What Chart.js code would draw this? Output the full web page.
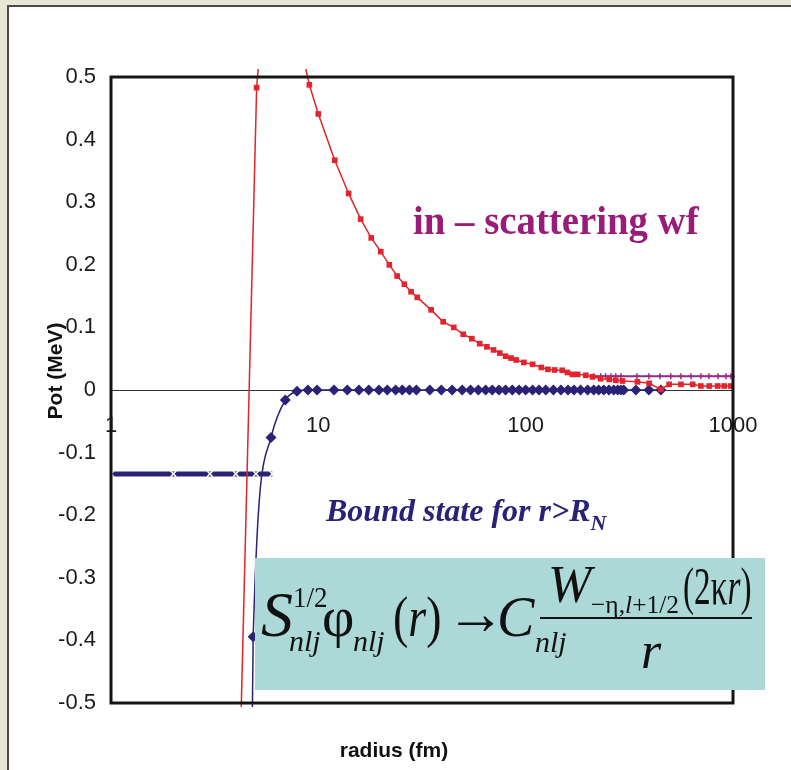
<!DOCTYPE html>
<html>
<head>
<meta charset="utf-8">
<script src="https://cdn.jsdelivr.net/npm/chart.js@4.4.1/dist/chart.umd.min.js"></script>
<style>
  html, body { margin: 0; padding: 0; background: #e8e6d5; }
  #wrap { width: 791px; height: 770px; }
</style>
</head>
<body>
<div id="wrap"><canvas id="potChart"></canvas></div>
<script>
// scattering wave function (red squares)
const redR = [4.18, 5.04, 5.4, 7.6, 9.05, 10, 12, 14, 16, 18, 20, 22, 24, 26, 28, 30, 35, 40, 45, 50,
  55, 60, 65, 70, 75, 80, 85, 90, 98, 108, 119, 128, 138, 150, 159, 168, 178, 195, 210, 230,
  253, 272, 293, 346, 394, 449, 492, 561, 639, 700, 768, 843, 907, 977];
const redPot = [-0.6, 0.483, 0.6, 0.6, 0.4875, 0.441, 0.367, 0.314, 0.273, 0.243, 0.221, 0.2, 0.182, 0.169, 0.157, 0.148, 0.128, 0.109, 0.1, 0.089,
  0.082, 0.074, 0.069, 0.064, 0.059, 0.054, 0.051, 0.048, 0.044, 0.041, 0.036, 0.033, 0.032, 0.0315, 0.028, 0.025, 0.025, 0.0235, 0.021, 0.018,
  0.017, 0.0155, 0.0144, 0.013, 0.0107, 0.001, 0.009, 0.009, 0.009, 0.0064, 0.0064, 0.0064, 0.0064, 0.0064];

// bound state wave function (navy diamonds)
const boundWfR = [4.78, 4.85, 5.91, 6.93, 7.89, 8.91, 9.86, 11.9, 13.8, 15.7, 17.5, 19.6, 21.5, 23.6, 25.4, 27.5, 29.7,
  34.5, 39.2, 44.2, 49.4, 54.2, 59.1, 64.1, 69, 74.3, 80, 86.2, 92.9, 100, 108, 116, 125, 136, 148, 160, 171,
  184, 199, 213, 225, 238, 252, 266, 278, 288, 297, 340, 393, 449];
const boundWfPot = [-0.6, -0.394, -0.076, -0.016, -0.002, 0, 0, 0, 0, 0, 0, 0, 0, 0, 0, 0, 0,
  0, 0, 0, 0, 0, 0, 0, 0, 0, 0, 0, 0, 0, 0, 0, 0, 0, 0, 0, 0,
  0, 0, 0, 0, 0, 0, 0, 0, 0, 0, 0, 0, 0];

// bound state energy (thick dashed line)
const levelR = [1, 2, 3, 4, 5, 6];
const levelPot = [-0.134, -0.134, -0.134, -0.134, -0.134, -0.134];

// asymptotic form (purple)
const asymR = [213, 230, 243, 258, 272, 288, 344, 393, 444, 501, 561, 627, 700, 765, 847, 925, 977, 1000];
const asymPot = [0.022, 0.022, 0.022, 0.022, 0.022, 0.022, 0.022, 0.022, 0.022, 0.022, 0.022, 0.022, 0.022, 0.022, 0.022, 0.022, 0.022, 0.022];

const xTicks = [1, 10, 100, 1000];
const yMin = -0.5, yMax = 0.5, yStep = 0.1;

const NAVY = '#2a2276';
const RED = '#e2242c';
const PURPLE = '#992a86';
const serif = '"Liberation Serif", "Times New Roman", serif';
const tickFont = { family: '"Liberation Sans", Arial, sans-serif', size: 22 };

function pts(xs, ys) {
  return xs.map((x, i) => ({ x: x, y: ys[i] }));
}

const panel = {
  id: 'panel',
  beforeDraw(chart) {
    const ctx = chart.ctx;
    ctx.save();
    ctx.fillStyle = '#e8e6d5';
    ctx.fillRect(0, 0, chart.width, chart.height);
    ctx.fillStyle = '#ffffff';
    ctx.fillRect(8, 6, chart.width, chart.height);
    ctx.strokeStyle = '#4a4a4a';
    ctx.lineWidth = 2;
    ctx.beginPath();
    ctx.moveTo(8, chart.height);
    ctx.lineTo(8, 6);
    ctx.lineTo(chart.width, 6);
    ctx.stroke();
    ctx.restore();
  }
};

// draw a row of text pieces, optionally squeezed horizontally by k
function runs(ctx, x, y, parts, k) {
  ctx.save();
  ctx.translate(x, y);
  ctx.scale(k || 1, 1);
  let cx = 0;
  parts.forEach(p => {
    ctx.font = p[1];
    ctx.fillText(p[0], cx, p[2] || 0);
    cx += ctx.measureText(p[0]).width;
  });
  ctx.restore();
  return x + cx * (k || 1);
}

const annotations = {
  id: 'annotations',
  afterDatasetsDraw(chart) {
    const ctx = chart.ctx;
    const a = chart.chartArea;
    ctx.save();

    // plot frame
    ctx.strokeStyle = '#151515';
    ctx.lineWidth = 3;
    ctx.strokeRect(a.left, a.top, a.right - a.left, a.bottom - a.top);

    // axis titles
    ctx.fillStyle = '#111';
    ctx.font = 'bold 21px "Liberation Sans", Arial, sans-serif';
    ctx.textAlign = 'center';
    ctx.textBaseline = 'middle';
    ctx.fillText('radius (fm)', 394, 751);
    ctx.save();
    ctx.translate(56, 371);
    ctx.rotate(-Math.PI / 2);
    ctx.fillText('Pot (MeV)', 0, 0);
    ctx.restore();

    // labels
    ctx.textAlign = 'left';
    ctx.textBaseline = 'alphabetic';
    ctx.fillStyle = '#9a1c79';
    runs(ctx, 413, 234, [['in – scattering wf', 'bold 40px ' + serif]], 0.97);

    ctx.fillStyle = NAVY;
    const bx = runs(ctx, 326, 521, [['Bound state for r>R', 'italic bold 32px ' + serif]]);
    runs(ctx, bx, 530, [['N', 'italic bold 22px ' + serif]]);

    // formula box
    ctx.fillStyle = '#acd8d8';
    ctx.fillRect(255, 558, 510, 132);
    ctx.fillStyle = '#111';
    const bigI = 'italic 56px ' + serif, bigU = '56px ' + serif;
    const smI = 'italic 30px ' + serif, smU = '30px ' + serif;
    runs(ctx, 261, 636, [['S', 'italic 64px ' + serif]]);
    runs(ctx, 293, 607, [['1/2', smU]], 0.9);
    runs(ctx, 289, 651, [['nlj', smI]]);
    runs(ctx, 322, 636, [['φ', bigU]]);
    runs(ctx, 353, 651, [['nlj', smI]]);
    runs(ctx, 393, 636, [['(', bigU], ['r', bigI], [')', bigU]], 0.82);
    runs(ctx, 446, 634, [['→', '62px ' + serif]], 0.95);
    runs(ctx, 497, 636, [['C', bigI]]);
    runs(ctx, 535, 652, [['nlj', smI]]);
    runs(ctx, 548, 602, [['W', 'italic 52px ' + serif]]);
    runs(ctx, 591, 613, [['−η,', '26px ' + serif], ['l', 'italic 26px ' + serif], ['+1/2', '26px ' + serif]], 0.98);
    runs(ctx, 683, 604, [['(2κ', '52px ' + serif], ['r', 'italic 52px ' + serif], [')', '52px ' + serif]], 0.64);
    ctx.strokeStyle = '#111';
    ctx.lineWidth = 2;
    ctx.beginPath();
    ctx.moveTo(540, 618);
    ctx.lineTo(752, 618);
    ctx.stroke();
    ctx.textAlign = 'center';
    ctx.font = 'italic 52px ' + serif;
    ctx.fillText('r', 651, 668);

    ctx.restore();
  }
};

const clipBox = { left: 0, top: 8, right: 2, bottom: 4 };

new Chart(document.getElementById('potChart'), {
  type: 'scatter',
  data: {
    datasets: [
      {
        label: 'scattering wf',
        data: pts(redR, redPot),
        showLine: true,
        borderColor: RED,
        borderWidth: 1.5,
        backgroundColor: RED,
        pointStyle: 'rect',
        pointRadius: 4,
        pointBorderWidth: 0,
        clip: clipBox
      },
      {
        label: 'asymptotic',
        data: pts(asymR, asymPot),
        showLine: true,
        borderColor: PURPLE,
        borderWidth: 2,
        backgroundColor: PURPLE,
        pointStyle: 'cross',
        pointRadius: 3,
        pointBorderWidth: 1.5,
        pointBorderColor: PURPLE,
        clip: clipBox
      },
      {
        label: 'bound wf',
        data: pts(boundWfR, boundWfPot),
        showLine: true,
        cubicInterpolationMode: 'monotone',
        borderColor: NAVY,
        borderWidth: 1.5,
        backgroundColor: NAVY,
        pointStyle: 'rectRot',
        pointRadius: 5.5,
        pointBorderWidth: 0,
        clip: clipBox
      },
      {
        label: 'bound level',
        data: pts(levelR, levelPot),
        showLine: true,
        borderColor: NAVY,
        borderWidth: 5,
        pointStyle: 'crossRot',
        pointRadius: 4,
        pointBorderColor: '#ffffff',
        pointBorderWidth: 1.5,
        clip: clipBox
      }
    ]
  },
  plugins: [panel, annotations],
  options: {
    responsive: true,
    maintainAspectRatio: false,
    animation: false,
    devicePixelRatio: 1,
    layout: { padding: { top: 77, right: 58, bottom: 67, left: 0 } },
    plugins: { legend: { display: false }, tooltip: { enabled: false } },
    scales: {
      x: {
        type: 'logarithmic',
        min: 1,
        max: 1000,
        position: { y: 0 },
        grid: { display: false, drawTicks: false },
        border: { color: '#333', width: 1 },
        afterBuildTicks: (s) => { s.ticks = xTicks.map(v => ({ value: v })); },
        ticks: {
          autoSkip: false,
          maxRotation: 0,
          padding: 23,
          color: '#1a1a1a',
          font: tickFont,
          callback: (v) => String(v)
        }
      },
      y: {
        min: yMin,
        max: yMax,
        afterFit: (s) => { s.width = 111; },
        grid: { display: false, drawTicks: false },
        border: { display: false },
        ticks: {
          stepSize: yStep,
          padding: 15,
          color: '#1a1a1a',
          font: tickFont,
          callback: (v) => String(Math.round(v * 10) / 10)
        }
      }
    }
  }
});
</script>
</body>
</html>
